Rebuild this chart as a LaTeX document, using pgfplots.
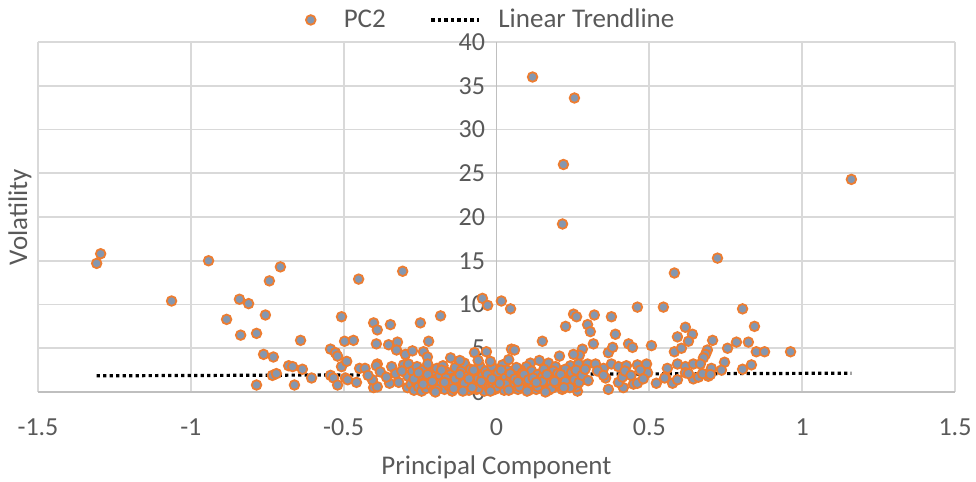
\documentclass[border=0pt]{standalone}
\usepackage{fontspec}
\setmainfont{Carlito}
\usepackage{pgfplots}
\pgfplotsset{compat=1.18}
\definecolor{txt}{HTML}{595959}
\definecolor{gridc}{HTML}{D9D9D9}
\definecolor{axc}{HTML}{BFBFBF}
\definecolor{mkfill}{HTML}{8497B0}
\definecolor{mkline}{HTML}{ED7D31}
\pgfplotsset{
  markleg/.style={legend image code/.code={\path[draw=none,fill=none] (0pt,-3pt) rectangle (24.5pt,3pt);\draw[mark repeat=2,mark phase=2,##1] plot coordinates {(0pt,0pt)(8pt,0pt)(16pt,0pt)};}},
  lineleg/.style={legend image code/.code={\path[draw=none,fill=none] (0pt,-1pt) rectangle (33.5pt,1pt);\draw[##1] (0pt,0pt) -- (24pt,0pt);}},
}
\begin{document}
\begin{tikzpicture}
\path[use as bounding box] (-19pt,-45pt) rectangle (469pt,196pt);
\begin{axis}[
  width=458.5pt, height=175pt, scale only axis,
  xmin=-1.5, xmax=1.5, ymin=0, ymax=40,
  xtick={-1.5,-1,...,1.5}, ytick={0,5,...,40},
  axis x line=bottom, axis y line=center,
  hide obscured y ticks=false, hide obscured x ticks=false,
  axis line style={-, draw=axc, line width=0.9pt},
  major tick length=0pt,
  grid=major, major grid style={draw=gridc, line width=0.9pt},
  /pgf/number format/assume math mode=true,
  /pgf/number format/fixed,
  tick label style={font=\fontsize{13}{15}\selectfont, text=txt},
  xticklabel style={anchor=base, inner sep=0pt, yshift=-21.5pt},
  yticklabel style={anchor=east, inner sep=0pt, xshift=-5.5pt},
  xlabel={Principal Component}, ylabel={Volatility},
  label style={font=\fontsize{13.5}{16}\selectfont, text=txt},
  xlabel style={at={(rel axis cs:0.5,0)}, anchor=base, inner sep=0pt, yshift=-41.5pt},
  ylabel style={at={(rel axis cs:0,0.5)}, rotate=90, anchor=south, inner sep=3pt},
  legend columns=2,
  legend style={at={(0.487,1.063)}, anchor=center, draw=none, fill=none,
    font=\fontsize{13.5}{16}\selectfont, text=txt,
    nodes={inner sep=0pt},
    /tikz/every odd column/.append style={column sep=0pt},
    /tikz/every even column/.append style={column sep=22pt}},
]
\addplot[only marks, mark=*, mark size=2.4pt,
  mark options={fill=mkfill, draw=mkline, line width=0.9pt}, markleg]
  table[row sep=crcr]{
-1.308 14.7\\ -1.295 15.8\\ -1.063 10.4\\ -0.942 15.0\\ -0.743 12.7\\
-0.841 10.6\\ -0.811 10.1\\ -0.883 8.3\\ -0.756 8.8\\ -0.837 6.5\\
-0.785 6.7\\ -0.762 4.3\\ -0.730 4.0\\ -0.785 0.8\\ -0.733 1.9\\
-0.720 2.1\\ -0.707 14.3\\ -0.680 3.0\\ -0.667 2.9\\ -0.661 0.8\\
-0.641 5.9\\ -0.635 2.6\\ -0.605 1.6\\ -0.543 4.9\\ -0.527 4.5\\
-0.520 4.1\\ -0.507 8.6\\ -0.497 5.8\\ -0.468 5.9\\ -0.451 12.9\\
-0.507 2.9\\ -0.490 3.5\\ -0.543 1.9\\ -0.533 1.6\\ -0.520 0.8\\
-0.494 1.6\\ -0.487 1.4\\ -0.458 1.1\\ -0.448 2.7\\ -0.430 2.7\\
-0.402 7.9\\ -0.390 7.1\\ -0.393 5.5\\ -0.390 3.2\\ -0.393 3.0\\
-0.402 0.5\\ -0.390 0.6\\ -0.406 1.4\\ -0.353 5.4\\ -0.347 7.7\\
-0.324 5.7\\ -0.327 4.8\\ -0.343 2.9\\ -0.350 1.0\\ -0.307 13.8\\
-0.298 4.3\\ -0.275 4.7\\ -0.304 3.1\\ -0.288 3.2\\ -0.291 0.5\\
-0.249 7.9\\ -0.239 4.6\\ -0.226 4.0\\ -0.222 5.8\\ -0.183 8.7\\
-0.150 3.9\\ -0.072 4.5\\ -0.033 4.6\\ -0.046 10.7\\ -0.029 9.9\\
0.016 10.4\\ 0.046 9.5\\ 0.049 4.9\\ 0.059 4.8\\ 0.150 5.8\\
0.226 7.5\\ 0.252 8.9\\ 0.262 8.6\\ 0.298 7.7\\ 0.307 6.9\\
0.320 8.8\\ 0.317 5.5\\ 0.376 8.6\\ 0.389 6.6\\ 0.366 4.5\\
0.380 5.1\\ 0.281 4.9\\ 0.271 4.2\\ 0.252 4.3\\ 0.206 4.1\\
0.432 5.5\\ 0.445 5.1\\ 0.461 9.7\\ 0.507 5.3\\ 0.546 9.7\\
0.366 0.3\\ 0.415 0.5\\ 0.448 0.9\\ 0.461 1.0\\ 0.523 1.0\\
0.357 1.6\\ 0.399 1.1\\ 0.412 1.7\\ 0.350 2.7\\ 0.376 3.2\\
0.399 2.9\\ 0.425 3.0\\ 0.461 3.1\\ 0.491 3.2\\ 0.494 2.2\\
0.170 3.3\\ 0.193 2.9\\ 0.242 3.0\\ 0.268 3.2\\ 0.298 3.2\\
0.324 3.2\\ 0.111 3.3\\ 0.098 2.9\\ 0.079 2.5\\ 0.265 0.1\\
0.262 0.6\\ 0.723 15.3\\ 0.582 13.6\\ 0.805 9.5\\ 0.618 7.4\\
0.844 7.5\\ 0.592 6.3\\ 0.641 6.6\\ 0.628 5.8\\ 0.707 5.9\\
0.785 5.7\\ 0.824 5.7\\ 0.756 5.0\\ 0.582 4.6\\ 0.605 5.0\\
0.690 4.8\\ 0.684 4.3\\ 0.677 3.9\\ 0.850 4.6\\ 0.877 4.6\\
0.962 4.6\\ 0.746 3.4\\ 0.703 2.7\\ 0.736 2.5\\ 0.805 2.6\\
0.834 3.1\\ 0.559 2.7\\ 0.592 3.2\\ 0.618 2.9\\ 0.644 3.2\\
0.667 3.2\\ 0.553 1.7\\ 0.576 1.0\\ 0.592 1.4\\ 0.644 1.5\\
0.661 1.7\\ 0.693 1.8\\ 0.618 2.2\\ 0.628 2.1\\ 0.674 2.1\\
0.700 2.0\\ 0.550 1.6\\ 0.118 36.0\\ 0.255 33.6\\ 0.219 26.0\\
1.161 24.3\\ 0.216 19.2\\
-0.290 1.8\\ -0.280 0.9\\ -0.275 2.4\\ -0.270 0.2\\ -0.265 1.3\\
-0.260 2.9\\ -0.255 0.6\\ -0.250 1.9\\ -0.245 0.1\\ -0.240 2.5\\
-0.235 1.1\\ -0.230 0.4\\ -0.225 3.2\\ -0.220 1.6\\ -0.215 0.8\\
-0.210 2.2\\ -0.205 0.2\\ -0.200 1.4\\ -0.195 2.7\\ -0.190 0.5\\
-0.185 1.9\\ -0.180 1.0\\ -0.175 3.0\\ -0.170 0.3\\ -0.165 2.3\\
-0.160 1.2\\ -0.155 0.7\\ -0.150 2.0\\ -0.145 0.1\\ -0.140 1.6\\
-0.135 2.8\\ -0.130 0.9\\ -0.125 1.4\\ -0.120 0.4\\ -0.115 2.4\\
-0.110 1.1\\ -0.105 3.3\\ -0.100 0.6\\ -0.095 1.8\\ -0.090 0.2\\
-0.085 2.6\\ -0.080 1.3\\ -0.075 0.8\\ -0.070 2.1\\ -0.065 0.3\\
-0.060 1.5\\ -0.055 3.0\\ -0.050 0.7\\ -0.045 1.9\\ -0.040 0.1\\
-0.035 2.4\\ -0.030 1.2\\ -0.025 0.5\\ -0.020 1.7\\ -0.015 2.9\\
-0.010 0.9\\ -0.005 0.3\\ 0.000 1.4\\ 0.005 2.2\\ 0.010 0.6\\
0.015 1.1\\ 0.020 3.1\\ 0.025 0.2\\ 0.030 1.7\\ 0.035 2.5\\
0.040 0.8\\ 0.045 1.3\\ 0.050 0.4\\ 0.055 2.0\\ 0.060 1.0\\
0.065 2.8\\ 0.070 0.3\\ 0.075 1.6\\ 0.080 0.9\\ 0.085 2.2\\
0.090 0.5\\ 0.095 1.3\\ 0.100 1.9\\ 0.105 0.2\\ 0.110 1.1\\
0.115 2.4\\ 0.120 0.7\\ 0.125 1.5\\ 0.130 0.3\\ 0.135 2.0\\
0.140 1.0\\ 0.145 0.5\\ 0.150 1.7\\ 0.155 2.6\\ 0.160 0.8\\
0.165 1.3\\ 0.170 0.2\\ 0.175 1.9\\ 0.180 1.1\\ 0.185 2.4\\
0.190 0.6\\ 0.195 1.5\\ 0.200 2.1\\ 0.205 0.9\\ 0.210 1.4\\
0.215 0.3\\ 0.220 1.8\\ 0.225 2.6\\ 0.230 1.0\\ 0.240 1.6\\
0.245 2.2\\ 0.250 0.8\\ 0.255 1.4\\ 0.260 2.5\\ 0.270 1.1\\
0.280 1.9\\ 0.290 2.6\\ 0.300 1.3\\
-0.270 1.5\\ -0.255 2.2\\ -0.240 0.9\\ -0.225 2.0\\ -0.210 1.2\\
-0.195 0.3\\ -0.180 2.5\\ -0.165 1.6\\ -0.150 0.9\\ -0.135 1.5\\
-0.120 2.0\\ -0.105 1.0\\ -0.090 1.5\\ -0.075 2.5\\ -0.060 0.4\\
-0.045 1.0\\ -0.030 2.0\\ -0.015 1.5\\ 0.000 0.5\\ 0.015 2.5\\
0.030 0.9\\ 0.045 2.1\\ 0.060 1.5\\ 0.075 0.6\\ 0.090 2.0\\
0.105 1.4\\ 0.120 1.6\\ 0.135 0.6\\ 0.150 1.2\\ 0.165 2.0\\
0.180 0.4\\ 0.195 1.0\\ 0.210 2.0\\ 0.225 1.2\\ 0.240 0.5\\
-0.200 0.0\\ -0.170 1.1\\ -0.140 0.4\\ -0.110 0.1\\ -0.080 0.5\\
-0.050 1.2\\ -0.020 0.1\\ 0.010 1.0\\ 0.040 0.2\\ 0.070 1.2\\
0.100 0.1\\ 0.130 1.1\\ 0.160 0.0\\ 0.190 1.2\\ 0.220 0.5\\
-0.120 3.6\\ -0.060 3.6\\ -0.020 3.5\\ 0.040 3.7\\ 0.140 3.6\\
-0.420 1.9\\ -0.380 2.3\\ -0.360 1.7\\ -0.330 2.1\\ -0.320 1.1\\
-0.310 2.4\\ 0.330 2.4\\ 0.350 1.9\\ 0.420 2.4\\ 0.440 1.9\\
0.470 2.5\\ 0.480 1.5\\
};
\addlegendentry{PC2}
\addplot[black, line width=1.6pt, dash pattern=on 1.6pt off 1.65pt, lineleg]
  table[row sep=crcr]{
-1.308 1.85\\
1.161 2.15\\
};
\addlegendentry{Linear Trendline}
\end{axis}
\end{tikzpicture}
\end{document}
